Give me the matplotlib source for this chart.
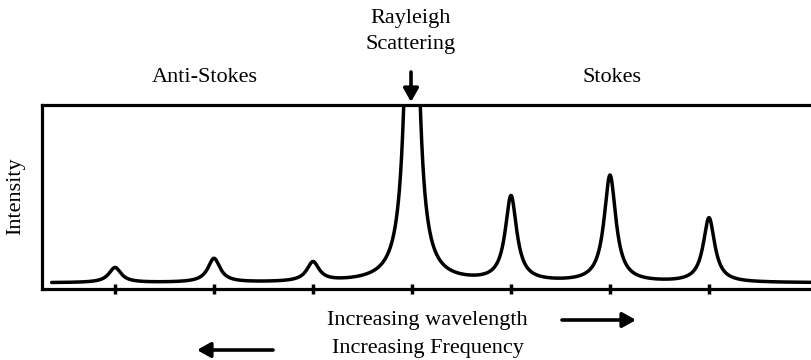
import numpy as np
import matplotlib
matplotlib.use('Agg')
import matplotlib.pyplot as plt

# peak data (x in tick units, height as fraction of axis height)
peak_pos = [1, 2, 3, 4, 5, 6, 7]
peak_height = [0.082, 0.13, 0.105, 3.1, 0.462, 0.58, 0.35]
peak_width = [0.075, 0.075, 0.075, 0.056, 0.07, 0.072, 0.07]
baseline = 0.033
x_start, x_end = 0.36, 8.3

W, H = 812, 360
plt.rcParams['font.family'] = ['Liberation Serif', 'DejaVu Serif']

fig = plt.figure(figsize=(W/100., H/100.), dpi=100)

def fx(px):
    return px/float(W)
def fy(py):
    return 1 - py/float(H)

ax = fig.add_axes([fx(42), fy(289), fx(830) - fx(42), fy(105) - fy(289)])

xx = np.linspace(x_start, x_end, 3000)
yy = baseline + np.zeros_like(xx)
for p, h, g in zip(peak_pos, peak_height, peak_width):
    yy = yy + h*g**2/((xx - p)**2 + g**2)

ax.plot(xx, yy, color='black', lw=2.5, solid_capstyle='round')
ax.set_xlim(1 + (42 - 115)/99., 1 + (830 - 115)/99.)
ax.set_ylim(0, 1)
ax.set_xticks(peak_pos)
ax.set_xticklabels([])
ax.set_yticks([])
ax.tick_params(axis='x', direction='inout', length=7, width=2.5)
for s in ax.spines.values():
    s.set_linewidth(2.3)

fs = 16
fig.text(fx(411), fy(18), 'Rayleigh', ha='center', va='center', fontsize=fs)
fig.text(fx(411), fy(44), 'Scattering', ha='center', va='center', fontsize=fs)
fig.text(fx(205), fy(77), 'Anti-Stokes', ha='center', va='center', fontsize=fs)
fig.text(fx(612), fy(77), 'Stokes', ha='center', va='center', fontsize=fs)
fig.text(fx(16), fy(196), 'Intensity', ha='center', va='center', fontsize=fs, rotation=90)
fig.text(fx(427), fy(320), 'Increasing wavelength', ha='center', va='center', fontsize=fs)
fig.text(fx(428), fy(348), 'Increasing Frequency', ha='center', va='center', fontsize=fs)

arrow = dict(arrowstyle='-|>,head_length=0.8,head_width=0.45', color='black', lw=2.6, shrinkA=0, shrinkB=0)
fig.add_artist(plt.Annotation('', xy=(fx(411), fy(102)), xytext=(fx(411), fy(72)),
                              xycoords='figure fraction', arrowprops=arrow))
fig.add_artist(plt.Annotation('', xy=(fx(636), fy(320)), xytext=(fx(562), fy(320)),
                              xycoords='figure fraction', arrowprops=arrow))
fig.add_artist(plt.Annotation('', xy=(fx(197), fy(350)), xytext=(fx(273), fy(350)),
                              xycoords='figure fraction', arrowprops=arrow))

fig.savefig('out.png', dpi=100)
